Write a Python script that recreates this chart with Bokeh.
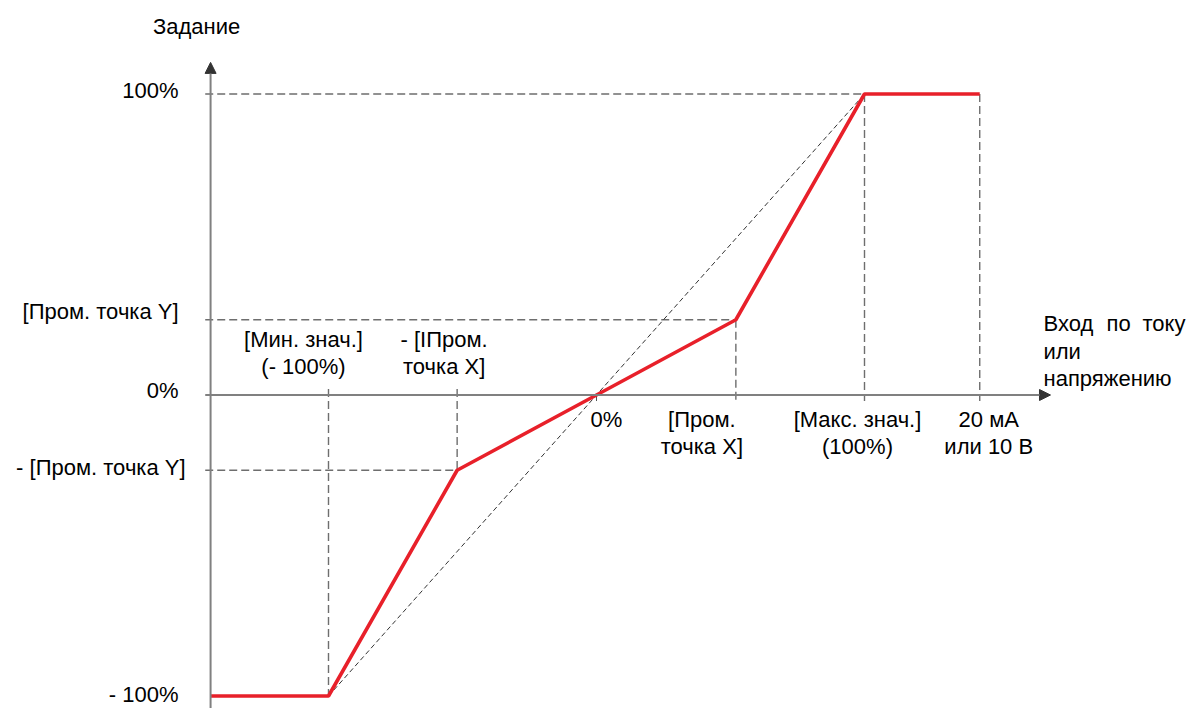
from bokeh.plotting import figure
from bokeh.models import Range1d, Arrow, NormalHead
from bokeh.core.properties import value
from bokeh.embed import file_html
from bokeh.resources import INLINE

# ---- data (percent of range) ----
curve_x = [-144, -100, -52, 0, 52, 100, 143]
curve_y = [-100, -100, -25, 0, 25, 100, 100]
diag_x = [-100, 100]
diag_y = [-100, 100]
y_axis_x = -144
x_axis_end = 169.4
y_axis_top = 110.5

y_ticks = [100, 25, 0, -25, -100]
y_labels = ["100%", "[Пром. точка Y]", "0%", "- [Пром. точка Y]", "- 100%"]
y_label_dy = [-4, -8, -5, -3, -2]
y_label_dx = [-32, -32, -32, -25, -32]

below_x = [0, 52, 100, 143]
below_l1 = ["0%", "[Пром.", "[Макс. знач.]", "20 мА"]
below_l2 = ["", "точка X]", "(100%)", "или 10 В"]
below_dx = [10, -34, -7, 9]

above_x = [-100, -52]
above_l1 = ["[Мин. знач.]", "- [IПром."]
above_l2 = ["(- 100%)", "точка X]"]
above_dx = [-25, -13]

FONT = value("Liberation Sans")
FS = "22px"

W, H = 1188, 708
X0, XS = 596.0, 2.68   # pixel of x=0, px per unit
Y0, YS = 394.5, 3.01   # pixel of y=0, px per unit

p = figure(width=W, height=H, output_backend="svg", toolbar_location=None,
           x_range=Range1d(-X0 / XS, (W - X0) / XS),
           y_range=Range1d((Y0 - H) / YS, Y0 / YS),
           min_border=0, outline_line_color=None)
p.axis.visible = False
p.grid.visible = False
p.background_fill_color = "white"
p.border_fill_color = "white"

GUIDE = "#6e6e6e"
ext_x = 2.0
ext_y = 2.0

# horizontal guides
hx0 = [y_axis_x - ext_x] * 3
hx1 = [curve_x[5], curve_x[4], curve_x[2]]
hy = [curve_y[5], curve_y[4], curve_y[2]]
p.segment(x0=hx0, y0=hy, x1=hx1, y1=hy, line_color=GUIDE, line_width=1.4, line_dash="8 4")

# vertical guides
vx = [curve_x[1], curve_x[2], curve_x[4], curve_x[5], curve_x[6]]
vy0 = [ext_y, ext_y, curve_y[4], curve_y[5], curve_y[6]]
vy1 = [curve_y[1], curve_y[2], -ext_y, -ext_y, -ext_y]
p.segment(x0=vx, y0=vy0, x1=vx, y1=vy1, line_color=GUIDE, line_width=1.4, line_dash="8 4")

# origin tick
p.segment(x0=[0], y0=[0], x1=[0], y1=[-ext_y], line_color="#555555", line_width=1)

# diagonal reference
p.line(diag_x, diag_y, line_color="#333333", line_width=1, line_dash="5 3")

# axes
AX = "#808080"
p.add_layout(Arrow(end=NormalHead(size=11, fill_color="#333333", line_color="#333333"),
                   x_start=y_axis_x - ext_x, y_start=0, x_end=x_axis_end, y_end=0,
                   line_color=AX, line_width=2))
p.add_layout(Arrow(end=NormalHead(size=11, fill_color="#333333", line_color="#333333"),
                   x_start=y_axis_x, y_start=(Y0 - H) / YS, x_end=y_axis_x, y_end=y_axis_top,
                   line_color=AX, line_width=2))

# curve
p.line(curve_x, curve_y, line_color="#e8202a", line_width=3.6)

# labels
p.text(x=[y_axis_x], y=[y_axis_top], text=["Задание"], x_offset=-14, y_offset=-36,
       text_align="center", text_baseline="middle", text_font=FONT, text_font_size=FS,
       text_color="black")

for yv, lab, dy, dx in zip(y_ticks, y_labels, y_label_dy, y_label_dx):
    p.text(x=[y_axis_x], y=[yv], text=[lab], x_offset=dx, y_offset=dy,
           text_align="right", text_baseline="middle", text_font=FONT,
           text_font_size=FS, text_color="black")

for xv, l1, l2, dx in zip(below_x, below_l1, below_l2, below_dx):
    p.text(x=[xv], y=[0], text=[l1], x_offset=dx, y_offset=24, text_align="center",
           text_baseline="middle", text_font=FONT, text_font_size=FS, text_color="black")
    if l2:
        p.text(x=[xv], y=[0], text=[l2], x_offset=dx, y_offset=51, text_align="center",
               text_baseline="middle", text_font=FONT, text_font_size=FS, text_color="black")

for xv, l1, l2, dx in zip(above_x, above_l1, above_l2, above_dx):
    p.text(x=[xv], y=[0], text=[l1], x_offset=dx, y_offset=-56, text_align="center",
           text_baseline="middle", text_font=FONT, text_font_size=FS, text_color="black")
    p.text(x=[xv], y=[0], text=[l2], x_offset=dx, y_offset=-29, text_align="center",
           text_baseline="middle", text_font=FONT, text_font_size=FS, text_color="black")

# x-axis title (justified first line)
title_words = ["Вход", "по", "току"]
title_dx = [-7, 56, 92]
for w, dx in zip(title_words, title_dx):
    p.text(x=[x_axis_end], y=[0], text=[w], x_offset=dx, y_offset=-72, text_align="left",
           text_baseline="middle", text_font=FONT, text_font_size=FS, text_color="black")
p.text(x=[x_axis_end], y=[0], text=["или"], x_offset=-7, y_offset=-44, text_align="left",
       text_baseline="middle", text_font=FONT, text_font_size=FS, text_color="black")
p.text(x=[x_axis_end], y=[0], text=["напряжению"], x_offset=-7, y_offset=-17, text_align="left",
       text_baseline="middle", text_font=FONT, text_font_size=FS, text_color="black")

open("out.html", "w").write(file_html(p, INLINE))
